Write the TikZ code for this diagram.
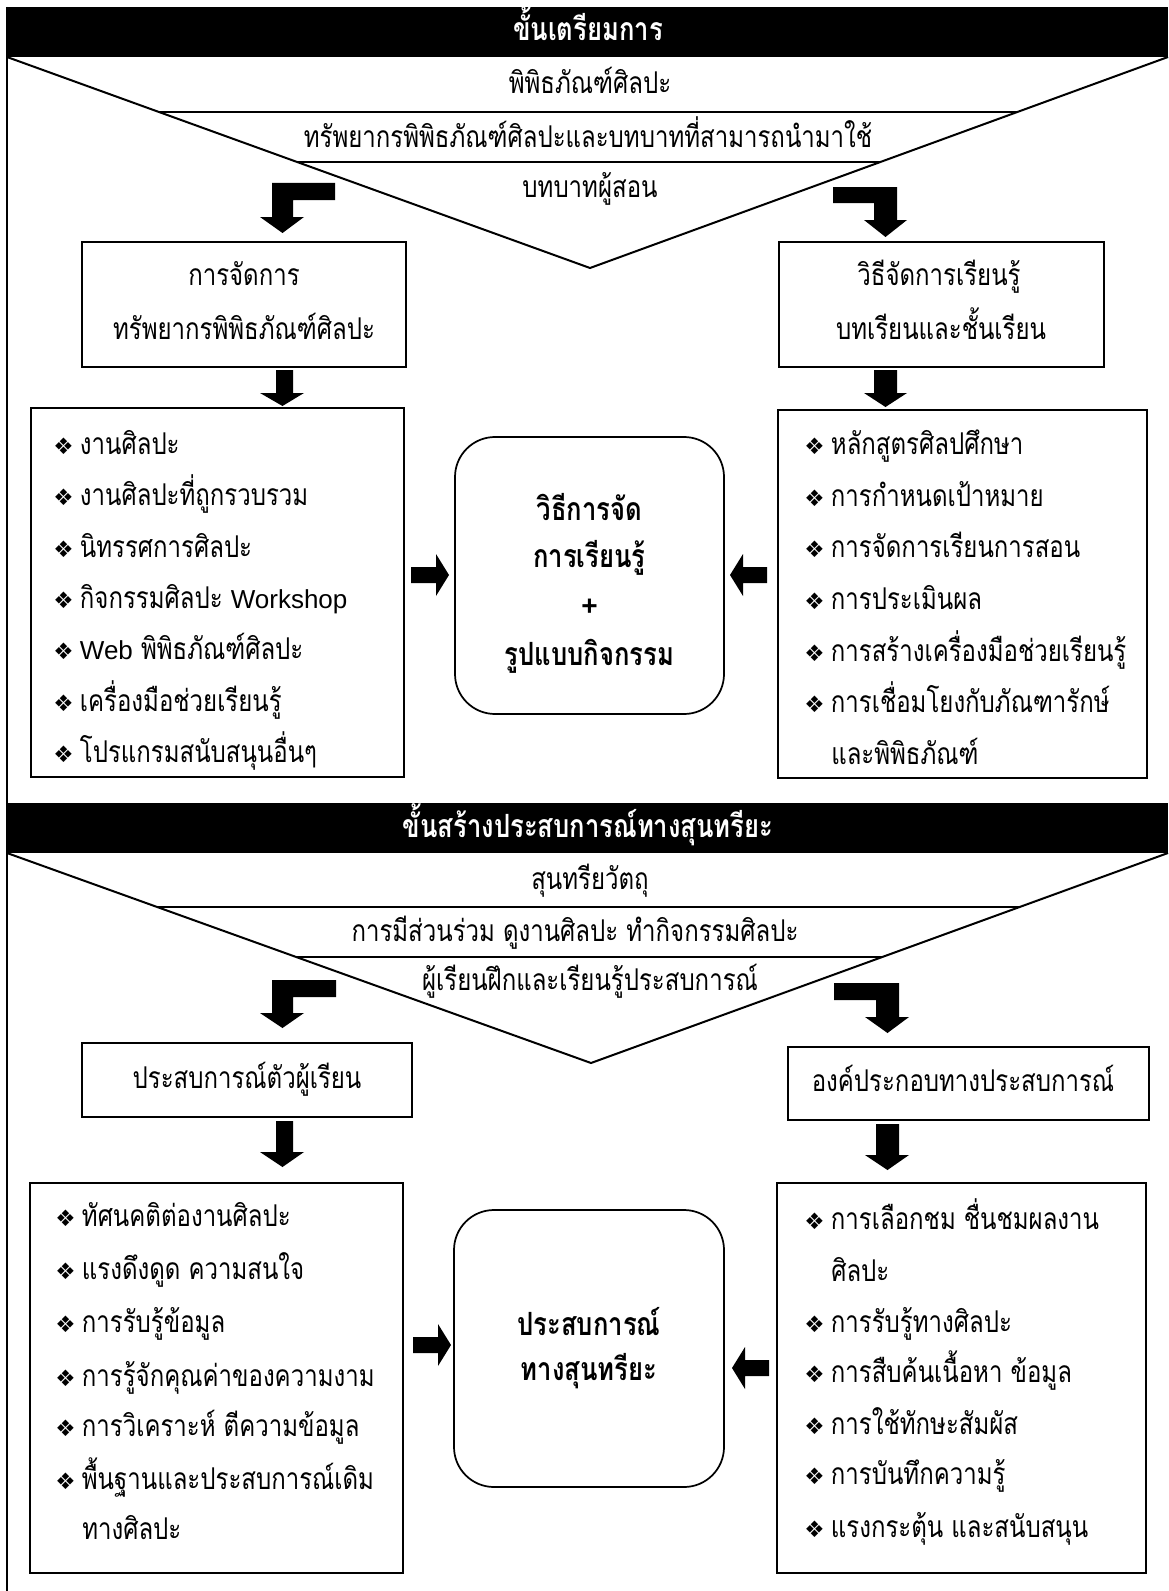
\documentclass[tikz,border=0pt]{standalone}
\usepackage{fontspec}
\setmainfont[Script=Thai,FakeStretch=0.8]{Loma}
\newfontfamily\symfont{DejaVu Sans}
\newfontfamily\latfont{Liberation Sans}
\usetikzlibrary{calc}
\newcommand\bodyfont{\fontsize{22.5}{26}\selectfont}
\newcommand\bigfont{\fontsize{24}{28}\selectfont}
\newcommand\lat[1]{{\latfont\fontsize{19.5}{22}\selectfont #1}}
\newcommand\bul{\makebox[20pt][l]{\raisebox{-0.5pt}{\symfont\fontsize{17}{20}\selectfont ❖}}}
\begin{document}
\begin{tikzpicture}[x=0.75pt,y=-0.75pt,
  txt/.style={anchor=base,inner sep=0pt,font=\bodyfont},
  ttl/.style={anchor=base,inner sep=0pt,font=\bigfont\bfseries,text=white},
  ctr/.style={anchor=base,inner sep=0pt,font=\bigfont\bfseries},
  itm/.style={anchor=base west,inner sep=0pt,font=\bodyfont},
  frame/.style={line width=1.5pt},
  boxl/.style={draw,line width=1.3pt},
  rbox/.style={draw,line width=1.3pt,rounded corners=30pt},
  blk/.style={fill=black}]
\useasboundingbox (0,0) rectangle (1168,1591);
\fill[white] (0,0) rectangle (1168,1591);

% ===== frame =====
\draw[frame] (7,7) -- (7,1591);

% ===== section 1 =====
\fill[blk] (7,7) rectangle (1168,57);
\node[ttl] (t1) at (588,41) {ขั้นเตรียมการ};
\coordinate (aL) at (7,57);
\coordinate (aA) at (590,268);
\coordinate (aR) at (1168,57);
\draw[frame] (aL) -- (aA) -- (aR);
\draw[frame] ($(aL)!0.2607!(aA)$) -- ($(aR)!0.2607!(aA)$);
\draw[frame] ($(aL)!0.4976!(aA)$) -- ($(aR)!0.4976!(aA)$);
\node[txt] (s1a) at (590,94) {พิพิธภัณฑ์ศิลปะ};
\node[txt] (s1b) at (588,147) {ทรัพยากรพิพิธภัณฑ์ศิลปะและบทบาทที่สามารถนำมาใช้};
\node[txt] (s1c) at (590,197) {บทบาทผู้สอน};

% bent arrows
\fill[blk] (272,183) -- (335,183) -- (335,200) -- (293,200) -- (293,217) -- (304,217) -- (282.5,233) -- (260,217) -- (272,217) -- cycle;
\fill[blk] (833,187) -- (897,187) -- (897,220) -- (907,220) -- (885.5,237) -- (864,220) -- (874,220) -- (874,203) -- (833,203) -- cycle;

% boxes
\draw[boxl] (82,242) rectangle (406,367);
\node[txt] (b1a) at (244,285) {การจัดการ};
\node[txt] (b1b) at (244,339) {ทรัพยากรพิพิธภัณฑ์ศิลปะ};
\draw[boxl] (779,242) rectangle (1104,367);
\node[txt] (b2a) at (939,285) {วิธีจัดการเรียนรู้};
\node[txt] (b2b) at (941,339) {บทเรียนและชั้นเรียน};

% down arrows
\fill[blk] (276,370) -- (293,370) -- (293,393) -- (304,393) -- (282.5,406) -- (260,393) -- (276,393) -- cycle;
\fill[blk] (874,370) -- (897,370) -- (897,393) -- (907,393) -- (885.5,407) -- (864,393) -- (874,393) -- cycle;

% list boxes
\draw[boxl] (31,408) rectangle (404,777);
\node[itm] (l1) at (53,454) {\bul งานศิลปะ};
\node[itm] (l2) at (53,505) {\bul งานศิลปะที่ถูกรวบรวม};
\node[itm] (l3) at (53,557) {\bul นิทรรศการศิลปะ};
\node[itm] (l4) at (53,608) {\bul กิจกรรมศิลปะ \lat{Workshop}};
\node[itm] (l5) at (53,659) {\bul \lat{Web} พิพิธภัณฑ์ศิลปะ};
\node[itm] (l6) at (53,711) {\bul เครื่องมือช่วยเรียนรู้};
\node[itm] (l7) at (53,762) {\bul โปรแกรมสนับสนุนอื่นๆ};

\draw[boxl] (778,410) rectangle (1147,778);
\node[itm] (r1) at (804,454) {\bul หลักสูตรศิลปศึกษา};
\node[itm] (r2) at (804,506) {\bul การกำหนดเป้าหมาย};
\node[itm] (r3) at (804,557) {\bul การจัดการเรียนการสอน};
\node[itm] (r4) at (804,609) {\bul การประเมินผล};
\node[itm] (r5) at (804,661) {\bul การสร้างเครื่องมือช่วยเรียนรู้};
\node[itm] (r6) at (804,712) {\bul การเชื่อมโยงกับภัณฑารักษ์};
\node[itm] (r7) at (831,764) {และพิพิธภัณฑ์};

% centre box
\draw[rbox] (455,437) rectangle (724,714);
\node[ctr] (c1a) at (589.5,520) {วิธีการจัด};
\node[ctr] (c1b) at (589.5,567) {การเรียนรู้};
\node[ctr,font=\latfont\bfseries\fontsize{21}{24}\selectfont] (c1c) at (589.5,615) {+};
\node[ctr] (c1d) at (589.5,665) {รูปแบบกิจกรรม};

\fill[blk] (411,567) -- (436,567) -- (436,554) -- (449,575) -- (436,596) -- (436,583) -- (411,583) -- cycle;
\fill[blk] (767,567) -- (743,567) -- (743,554) -- (730,575) -- (743,596) -- (743,583) -- (767,583) -- cycle;

% ===== section 2 =====
\fill[blk] (7,803) rectangle (1168,853);
\node[ttl] (t2) at (588,837) {ขั้นสร้างประสบการณ์ทางสุนทรียะ};
\coordinate (bL) at (7,853);
\coordinate (bA) at (591,1063);
\coordinate (bR) at (1168,853);
\draw[frame] (bL) -- (bA) -- (bR);
\draw[frame] ($(bL)!0.2571!(bA)$) -- ($(bR)!0.2571!(bA)$);
\draw[frame] ($(bL)!0.4952!(bA)$) -- ($(bR)!0.4952!(bA)$);
\node[txt] (s2a) at (590,889) {สุนทรียวัตถุ};
\node[txt] (s2b) at (575,941) {การมีส่วนร่วม ดูงานศิลปะ ทำกิจกรรมศิลปะ};
\node[txt] (s2c) at (590,990) {ผู้เรียนฝึกและเรียนรู้ประสบการณ์};

\fill[blk] (272,980) -- (336,980) -- (336,997) -- (293,997) -- (293,1013) -- (304,1013) -- (282.5,1028) -- (260,1013) -- (272,1013) -- cycle;
\fill[blk] (834,983) -- (899,983) -- (899,1017) -- (909,1017) -- (887.5,1033) -- (865,1017) -- (876,1017) -- (876,1000) -- (834,1000) -- cycle;

\draw[boxl] (82,1043) rectangle (412,1117);
\node[txt] (d1) at (247,1088) {ประสบการณ์ตัวผู้เรียน};
\draw[boxl] (788,1047) rectangle (1149,1120);
\node[txt] (d2) at (963,1091) {องค์ประกอบทางประสบการณ์};

\fill[blk] (276,1121) -- (293,1121) -- (293,1152) -- (304,1152) -- (282.5,1167) -- (260,1152) -- (276,1152) -- cycle;
\fill[blk] (876,1124) -- (899,1124) -- (899,1155) -- (909,1155) -- (887.5,1170) -- (865,1155) -- (876,1155) -- cycle;

\draw[boxl] (30,1183) rectangle (403,1573);
\node[itm] (m1) at (55,1226) {\bul ทัศนคติต่องานศิลปะ};
\node[itm] (m2) at (55,1279) {\bul แรงดึงดูด ความสนใจ};
\node[itm] (m3) at (55,1332) {\bul การรับรู้ข้อมูล};
\node[itm] (m4) at (55,1386) {\bul การรู้จักคุณค่าของความงาม};
\node[itm] (m5) at (55,1436) {\bul การวิเคราะห์ ตีความข้อมูล};
\node[itm] (m6) at (55,1489) {\bul พื้นฐานและประสบการณ์เดิม};
\node[itm] (m7) at (82,1539) {ทางศิลปะ};

\draw[boxl] (777,1183) rectangle (1146,1573);
\node[itm] (n1) at (804,1229) {\bul การเลือกชม ชื่นชมผลงาน};
\node[itm] (n2) at (831,1281) {ศิลปะ};
\node[itm] (n3) at (804,1332) {\bul การรับรู้ทางศิลปะ};
\node[itm] (n4) at (804,1382) {\bul การสืบค้นเนื้อหา ข้อมูล};
\node[itm] (n5) at (804,1434) {\bul การใช้ทักษะสัมผัส};
\node[itm] (n6) at (804,1484) {\bul การบันทึกความรู้};
\node[itm] (n7) at (804,1537) {\bul แรงกระตุ้น และสนับสนุน};

\draw[rbox] (454,1210) rectangle (724,1487);
\node[ctr] (e1) at (589,1335) {ประสบการณ์};
\node[ctr] (e2) at (589,1380) {ทางสุนทรียะ};

\fill[blk] (413,1337) -- (438,1337) -- (438,1324) -- (451,1345) -- (438,1366) -- (438,1353) -- (413,1353) -- cycle;
\fill[blk] (769,1360) -- (745,1360) -- (745,1347) -- (732,1368) -- (745,1389) -- (745,1376) -- (769,1376) -- cycle;
\end{tikzpicture}
\end{document}
